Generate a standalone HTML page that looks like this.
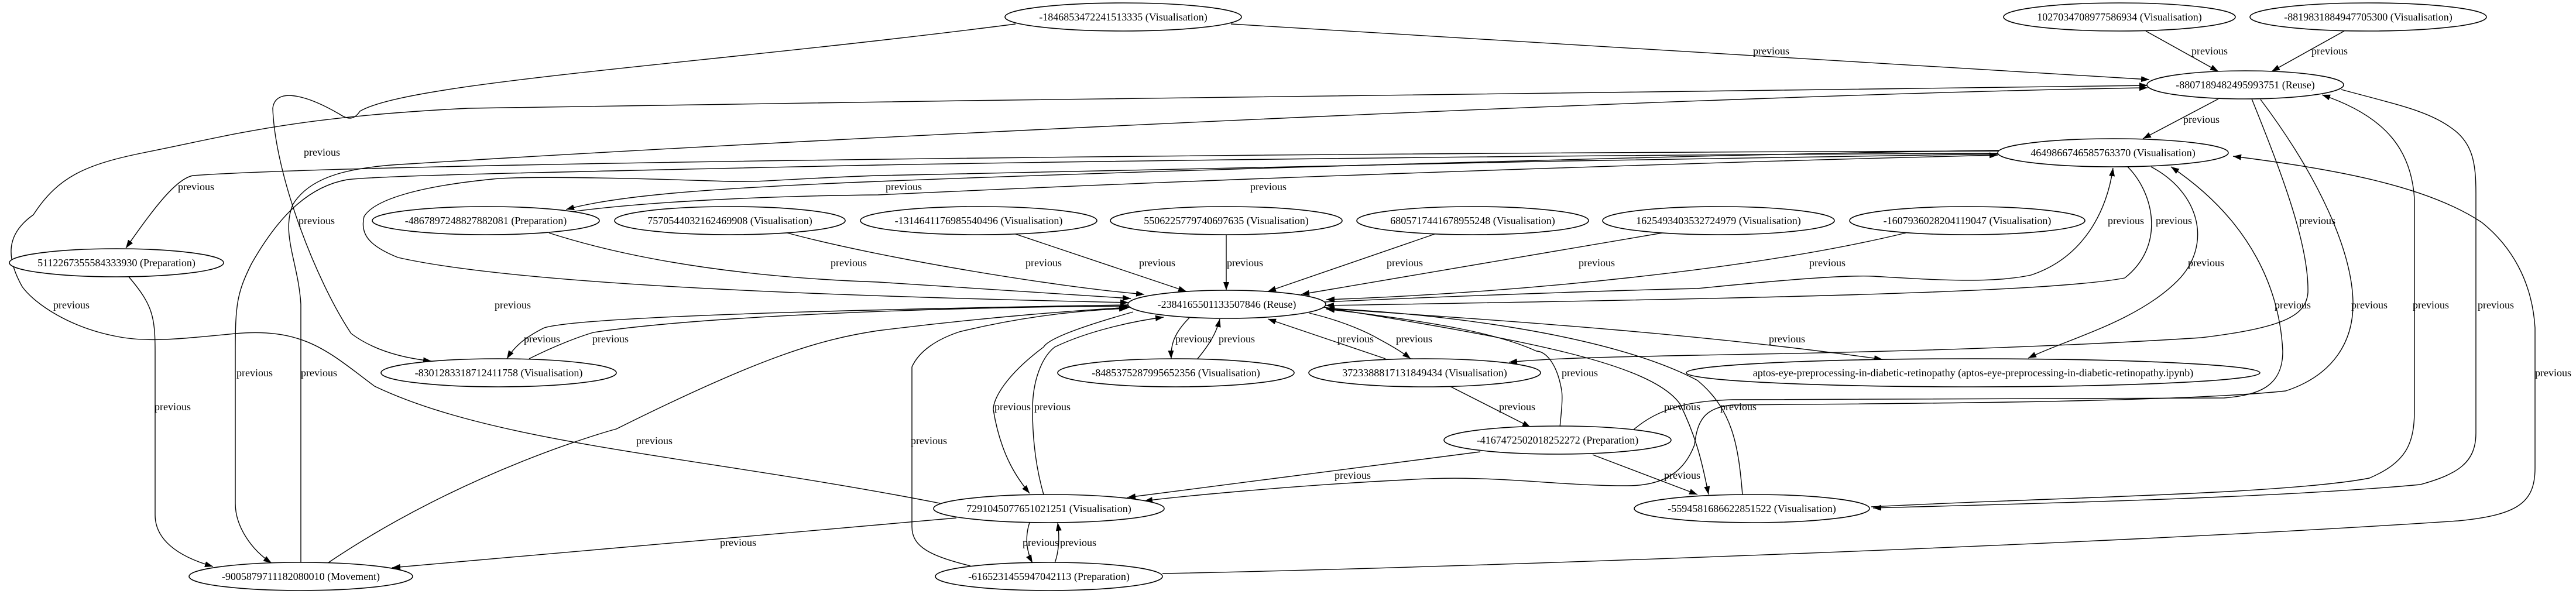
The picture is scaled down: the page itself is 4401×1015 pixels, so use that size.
<!DOCTYPE html>
<html><head><meta charset="utf-8">
<style>
html,body{margin:0;padding:0;background:#fff;}
svg{display:block;}
text{font-family:"Liberation Serif",serif;font-size:18px;fill:#000;}
.n{fill:#fff;stroke:#000;stroke-width:1.6;}
.e{fill:none;stroke:#000;stroke-width:1.4;}
</style></head><body>
<svg width="4401" height="1015" viewBox="0 0 4401 1015" xmlns="http://www.w3.org/2000/svg">
<defs>
<marker id="a" markerUnits="userSpaceOnUse" markerWidth="15" markerHeight="11" refX="14" refY="5" orient="auto">
<path d="M0,0 L14,5 L0,10 z" fill="#000"/>
</marker>
</defs>
<g class="e" marker-end="url(#a)">
<!-- 1 N1->N4 -->
<path d="M2103,41 L3672,136"/>
<!-- 2 N1->N15 -->
<path d="M1735,41 C1200,110 700,140 615,190 C605,205 595,205 580,195 C520,160 470,150 466,185 C470,300 540,480 600,570 C640,600 690,612 737,617"/>
<!-- 3,4 -->
<path d="M3666,53 L3790,122"/>
<path d="M4005,53 L3881,122"/>
<!-- 5 N4->N5 -->
<path d="M3790,169 L3661,237"/>
<!-- 6 N20->N4 -->
<path d="M1606,860 C1200,780 850,760 640,660 C560,600 520,560 402,570 C300,580 250,585 200,575 C120,560 60,520 38,490 C10,440 10,400 57,367 C100,300 150,280 250,260 C400,230 500,200 800,185 C1800,170 3000,150 3669,146"/>
<!-- 7 N22->N4 -->
<path d="M514,961 L514,520 C510,450 480,400 500,350 C530,300 600,285 700,280 C1500,230 3000,160 3669,150"/>
<!-- 8 -->
<path d="M3415,257 C3000,262 2000,290 1500,310 C1200,322 1050,335 967,358"/>
<path d="M975,362 C1100,345 1300,335 1500,333 C2200,300 3000,275 3413,265"/>
<!-- 9 N5->N13 -->
<path d="M3415,258 C2000,262 600,280 330,300 C300,305 260,360 215,424"/>
<!-- 10 N13->N22 -->
<path d="M220,473 C260,520 265,540 265,600 L265,880 C265,920 300,950 364,968"/>
<!-- 11 N5->N22 -->
<path d="M3413,262 C2500,265 1600,280 1500,282 C900,295 650,300 593,307 C520,320 470,380 430,450 C405,500 402,520 402,600 L402,860 C402,900 430,940 464,962"/>
<!-- 12 loop N5->N14 -->
<path d="M3413,263 C2800,270 2000,290 1500,300 C1350,305 1300,312 1244,310 C1100,305 900,300 842,306 C720,318 640,340 622,370 C615,400 630,420 680,440 C900,490 1500,508 1928,517"/>
<!-- 13 N6->N14, N7->N14 -->
<path d="M938,398 C1100,450 1300,475 1500,482 C1700,495 1850,505 1932,510"/>
<path d="M1345,398 C1500,440 1800,490 1955,503"/>
<path d="M1735,400 L2027,498"/>
<path d="M2095,402 L2095,496"/>
<path d="M2451,400 L2166,498"/>
<path d="M2840,398 L2223,503"/>
<path d="M3256,398 C3000,460 2600,500 2266,512"/>
<!-- 19 N14->N5 -->
<path d="M2262,516 C2500,505 2800,495 2900,493 C3050,478 3150,470 3200,472 C3300,478 3400,485 3470,470 C3560,440 3600,360 3610,287"/>
<!-- 20 N5->N14 -->
<path d="M3635,285 C3680,330 3700,420 3630,475 C3500,500 3000,510 2265,522"/>
<!-- 21 N5->N18 -->
<path d="M3675,285 C3760,330 3780,420 3720,480 C3650,550 3530,580 3465,612"/>
<!-- 22 N14->N18 -->
<path d="M2266,527 C2600,550 2900,570 3216,614"/>
<!-- 23a N4->N17 -->
<path d="M3847,169 C3900,300 3945,420 3943,500 C3940,540 3900,560 3761,577 C3400,600 3000,605 2900,607 C2750,610 2650,612 2578,619"/>
<!-- A N19->N5 -->
<path d="M2790,735 C2830,700 2880,685 2960,683 L3800,680 C3860,675 3900,660 3900,600 C3895,500 3850,380 3709,285"/>
<!-- B N4->N20 -->
<path d="M3862,170 C3960,300 4020,430 4020,520 C4020,580 3990,640 3905,668 C3700,690 3100,690 2960,692 C2910,697 2900,720 2895,760 C2880,800 2850,830 2780,830 C2650,830 2550,810 2400,820 C2200,830 2000,850 1955,856"/>
<!-- C N21->N4 -->
<path d="M3197,866 C3500,850 3900,845 4048,817 C4110,790 4125,760 4125,700 L4125,340 C4120,260 4080,200 3967,162"/>
<!-- D N4->N21 -->
<path d="M4000,153 C4100,180 4150,190 4190,220 C4225,245 4230,280 4230,330 L4230,740 C4230,790 4200,810 4135,828 C3900,850 3500,860 3200,868"/>
<!-- E N23->N5 -->
<path d="M1986,980 C2500,970 3600,930 4200,890 C4300,880 4331,860 4331,800 L4331,560 C4326,480 4290,420 4240,380 C4150,320 4000,290 3815,267"/>
<!-- 24 -->
<path d="M1928,521 C1500,528 1000,540 930,560 C900,575 880,590 866,613"/>
<path d="M904,613 C950,590 990,575 1014,568 C1200,540 1600,525 1928,523"/>
<!-- 25 -->
<path d="M2032,543 C2005,570 2000,590 2001,613"/>
<path d="M2046,613 C2065,590 2078,570 2084,545"/>
<!-- 26 -->
<path d="M2367,613 L2166,545"/>
<path d="M2237,535 C2300,550 2340,570 2357,580 C2385,595 2400,605 2410,613"/>
<!-- 27 N17->N19 -->
<path d="M2477,660 L2615,730"/>
<!-- 28 N19->N14 -->
<path d="M2665,730 C2668,700 2670,680 2668,667 C2660,620 2640,600 2625,600 C2560,570 2453,550 2266,528"/>
<!-- 29 -->
<path d="M2262,525 C2600,580 2820,620 2870,690 C2900,750 2910,800 2919,845"/>
<path d="M2977,846 C2970,760 2960,700 2900,650 C2750,570 2450,535 2266,527"/>
<!-- 30 N19->N20 -->
<path d="M2529,772 L1926,850"/>
<!-- 31 N19->N21 -->
<path d="M2721,777 L2900,845"/>
<!-- 32 -->
<path d="M1936,533 C1840,560 1790,580 1783,593 C1720,640 1697,680 1697,700 C1710,780 1740,820 1759,843"/>
<path d="M1783,845 C1770,800 1764,750 1764,700 C1764,650 1780,610 1802,593 C1860,565 1940,548 1988,542"/>
<!-- 33 N23->N14 -->
<path d="M1658,967 C1590,950 1558,935 1558,900 L1558,627 C1570,600 1600,580 1639,567 C1750,540 1850,530 1926,527"/>
<!-- 34 -->
<path d="M1759,893 C1750,920 1755,945 1764,962"/>
<path d="M1802,962 C1810,940 1810,915 1807,893"/>
<!-- 35 N20->N22 -->
<path d="M1634,885 L670,970"/>
<!-- 36 N22->N14 -->
<path d="M560,962 C800,800 1053,733 1053,733 C1300,610 1400,580 1500,565 C1700,540 1850,530 1930,525"/>
</g>

<g class="n">
<ellipse cx="1919" cy="29" rx="202" ry="24"/>
<ellipse cx="3621" cy="29" rx="198" ry="24"/>
<ellipse cx="4046" cy="29" rx="202" ry="24"/>
<ellipse cx="3836" cy="145" rx="168" ry="24"/>
<ellipse cx="3610" cy="261" rx="197" ry="24"/>
<ellipse cx="830" cy="377" rx="194" ry="24"/>
<ellipse cx="1247" cy="377" rx="197" ry="24"/>
<ellipse cx="1672" cy="377" rx="202" ry="24"/>
<ellipse cx="2095" cy="377" rx="198" ry="24"/>
<ellipse cx="2516" cy="377" rx="198" ry="24"/>
<ellipse cx="2936" cy="377" rx="198" ry="24"/>
<ellipse cx="3361" cy="377" rx="201" ry="24"/>
<ellipse cx="199" cy="449" rx="183" ry="24"/>
<ellipse cx="2096" cy="520" rx="169" ry="24"/>
<ellipse cx="852" cy="637" rx="201" ry="24"/>
<ellipse cx="2009" cy="637" rx="202" ry="24"/>
<ellipse cx="2434" cy="637" rx="198" ry="24"/>
<ellipse cx="3371" cy="637" rx="490" ry="24"/>
<ellipse cx="2661" cy="752" rx="194" ry="24"/>
<ellipse cx="1792" cy="869" rx="197" ry="24"/>
<ellipse cx="2993" cy="869" rx="201" ry="24"/>
<ellipse cx="514" cy="985" rx="191" ry="24"/>
<ellipse cx="1792" cy="985" rx="194" ry="24"/>
</g>

<g text-anchor="middle">
<text x="1919" y="35">-1846853472241513335 (Visualisation)</text>
<text x="3621" y="35">1027034708977586934 (Visualisation)</text>
<text x="4046" y="35">-8819831884947705300 (Visualisation)</text>
<text x="3836" y="151">-8807189482495993751 (Reuse)</text>
<text x="3610" y="267">4649866746585763370 (Visualisation)</text>
<text x="830" y="383">-4867897248827882081 (Preparation)</text>
<text x="1247" y="383">7570544032162469908 (Visualisation)</text>
<text x="1672" y="383">-1314641176985540496 (Visualisation)</text>
<text x="2095" y="383">5506225779740697635 (Visualisation)</text>
<text x="2516" y="383">6805717441678955248 (Visualisation)</text>
<text x="2936" y="383">1625493403532724979 (Visualisation)</text>
<text x="3361" y="383">-1607936028204119047 (Visualisation)</text>
<text x="199" y="455">5112267355584333930 (Preparation)</text>
<text x="2096" y="526">-2384165501133507846 (Reuse)</text>
<text x="852" y="643">-8301283318712411758 (Visualisation)</text>
<text x="2009" y="643">-8485375287995652356 (Visualisation)</text>
<text x="2434" y="643">3723388817131849434 (Visualisation)</text>
<text x="3371" y="643">aptos-eye-preprocessing-in-diabetic-retinopathy (aptos-eye-preprocessing-in-diabetic-retinopathy.ipynb)</text>
<text x="2661" y="758">-4167472502018252272 (Preparation)</text>
<text x="1792" y="875">7291045077651021251 (Visualisation)</text>
<text x="2993" y="875">-5594581686622851522 (Visualisation)</text>
<text x="514" y="991">-9005879711182080010 (Movement)</text>
<text x="1792" y="991">-6165231455947042113 (Preparation)</text>
</g>

<g text-anchor="middle">
<text x="3026" y="93">previous</text>
<text x="3775" y="93">previous</text>
<text x="3980" y="93">previous</text>
<text x="3761" y="210">previous</text>
<text x="550" y="266">previous</text>
<text x="335" y="325">previous</text>
<text x="1544" y="325">previous</text>
<text x="2167" y="325">previous</text>
<text x="541" y="383">previous</text>
<text x="3632" y="383">previous</text>
<text x="3714" y="383">previous</text>
<text x="3959" y="383">previous</text>
<text x="1450" y="455">previous</text>
<text x="1783" y="455">previous</text>
<text x="1977" y="455">previous</text>
<text x="2127" y="455">previous</text>
<text x="2400" y="455">previous</text>
<text x="2728" y="455">previous</text>
<text x="3122" y="455">previous</text>
<text x="3769" y="455">previous</text>
<text x="122" y="527">previous</text>
<text x="876" y="527">previous</text>
<text x="3917" y="527">previous</text>
<text x="4048" y="527">previous</text>
<text x="4153" y="527">previous</text>
<text x="4264" y="527">previous</text>
<text x="926" y="585">previous</text>
<text x="1043" y="585">previous</text>
<text x="2039" y="585">previous</text>
<text x="2113" y="585">previous</text>
<text x="2316" y="585">previous</text>
<text x="2416" y="585">previous</text>
<text x="3053" y="585">previous</text>
<text x="435" y="643">previous</text>
<text x="545" y="643">previous</text>
<text x="2699" y="643">previous</text>
<text x="4362" y="643">previous</text>
<text x="295" y="701">previous</text>
<text x="1730" y="701">previous</text>
<text x="1798" y="701">previous</text>
<text x="2592" y="701">previous</text>
<text x="2874" y="701">previous</text>
<text x="2970" y="701">previous</text>
<text x="1118" y="759">previous</text>
<text x="1587" y="759">previous</text>
<text x="2311" y="818">previous</text>
<text x="2874" y="818">previous</text>
<text x="1261" y="933">previous</text>
<text x="1778" y="933">previous</text>
<text x="1842" y="933">previous</text>
</g>
</svg>
</body></html>
